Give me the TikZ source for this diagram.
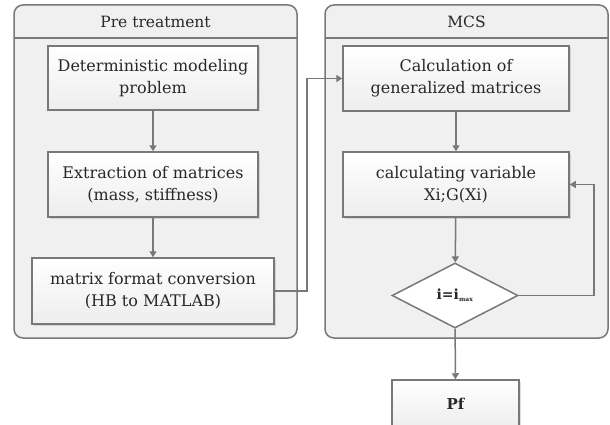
\documentclass[tikz,border=0pt]{standalone}
\usepackage{fontspec}
\setmainfont{DejaVu Serif}
\usetikzlibrary{shapes.geometric,arrows.meta,shadows}
\definecolor{boxline}{RGB}{120,120,120}
\definecolor{panefill}{RGB}{240,240,240}
\definecolor{inkgray}{RGB}{40,40,40}
\tikzset{
  pane/.style={draw=boxline, line width=1.5pt, rounded corners=9pt, fill=panefill},
  stepbox/.style={draw=boxline, line width=1.5pt, top color=white, bottom color=gray!14,
    drop shadow={shadow xshift=1.5pt, shadow yshift=-1.5pt, opacity=0.25},
    text=inkgray, align=center, inner sep=2pt,
    font=\fontsize{16}{22}\selectfont},
  testbox/.style={diamond, draw=boxline, line width=1.5pt, fill=white, inner sep=0pt,
    text=inkgray, font=\bfseries\fontsize{14}{16}\selectfont},
  flow/.style={draw=boxline, line width=1.5pt, -{Triangle[width=7pt,length=6pt]}},
  panetitle/.style={text=inkgray, font=\fontsize{15.5}{18}\selectfont}
}
\begin{document}
\begin{tikzpicture}[x=1pt,y=-1pt]
  \clip (0,0) rectangle (610,425);
  \fill[white] (0,0) rectangle (610,425);
  % the two panes
  \draw[pane] (14,5) rectangle (297,338);
  \draw[boxline, line width=1.5pt] (14,38) -- (297,38);
  \node[panetitle] (pretitle) at (155.5,22) {Pre treatment};
  \draw[pane] (325,5) rectangle (608,338);
  \draw[boxline, line width=1.5pt] (325,38) -- (608,38);
  \node[panetitle] (mcstitle) at (466.5,22) {MCS};
  % left column
  \node[stepbox, minimum width=210pt, minimum height=64pt] (model) at (153,78) {Deterministic modeling\\problem};
  \node[stepbox, minimum width=210pt, minimum height=65pt] (extract) at (153,184.5) {Extraction of matrices\\(mass, stiffness)};
  \node[stepbox, minimum width=242pt, minimum height=66pt] (convert) at (153,291) {matrix format conversion\\(HB to MATLAB)};
  % right column
  \node[stepbox, minimum width=226pt, minimum height=65pt] (general) at (456,78.5) {Calculation of\\generalized matrices};
  \node[stepbox, minimum width=226pt, minimum height=65pt] (variable) at (456,184.5) {calculating variable\\Xi;G(Xi)};
  \node[testbox, minimum width=126pt, minimum height=65pt] (test) at (455,295.5) {i=i\textsubscript{\fontsize{6}{7}\selectfont max}};
  \node[stepbox, font=\bfseries\fontsize{15}{18}\selectfont, minimum width=127pt, minimum height=48pt] (pf) at (455.5,404) {Pf};
  % connectors
  \draw[flow] (model) -- (extract);
  \draw[flow] (extract) -- (convert);
  \draw[flow] (convert.east) -- ++(32,0) |- (general.west);
  \draw[flow] (general) -- (variable);
  \draw[flow] (variable) -- (test);
  \draw[flow] (test.east) -- ++(75,0) |- (variable.east);
  \draw[flow] (test) -- (pf);
\end{tikzpicture}
\end{document}
